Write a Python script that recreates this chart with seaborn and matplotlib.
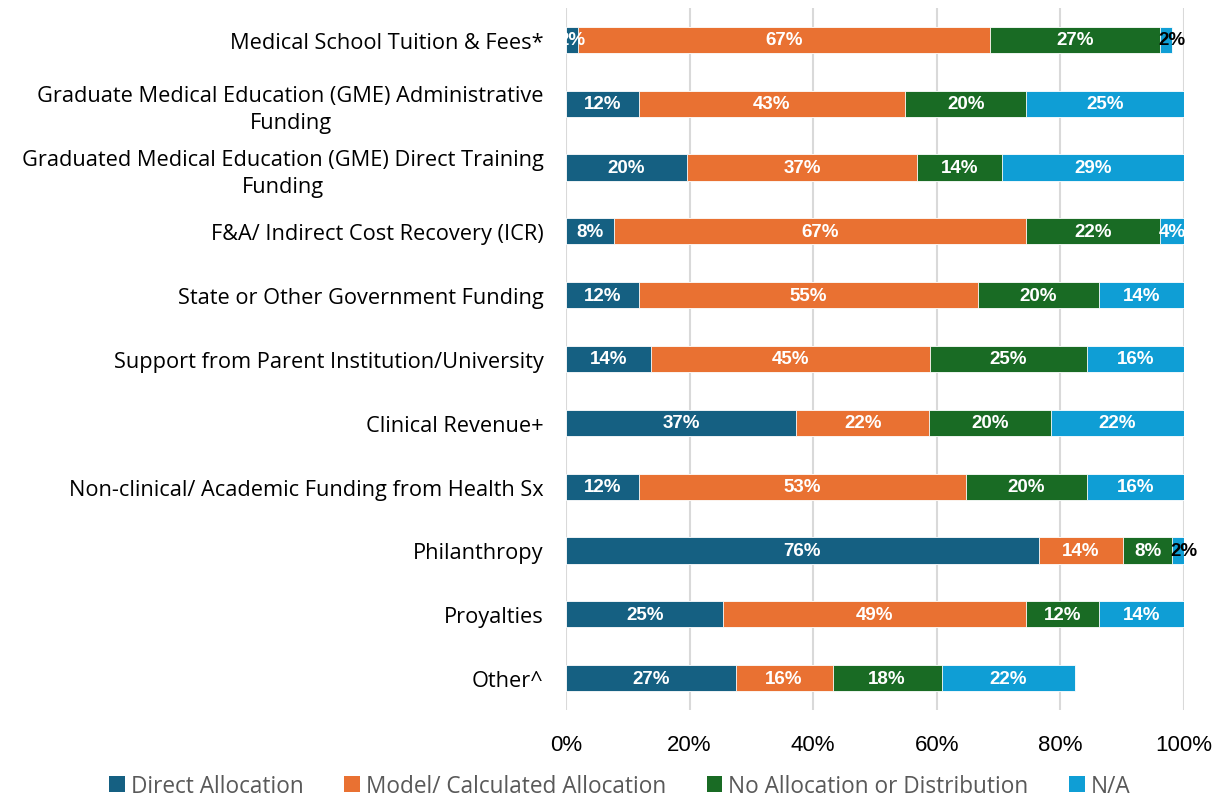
import matplotlib
matplotlib.use("Agg")
import matplotlib.pyplot as plt
import seaborn as sns
import numpy as np
import pandas as pd
from matplotlib.patches import Patch
from matplotlib.ticker import PercentFormatter

categories = [
    "Medical School Tuition & Fees*",
    "Graduate Medical Education (GME) Administrative\nFunding",
    "Graduated Medical Education (GME) Direct Training\nFunding",
    "F&A/ Indirect Cost Recovery (ICR)",
    "State or Other Government Funding",
    "Support from Parent Institution/University",
    "Clinical Revenue+",
    "Non-clinical/ Academic Funding from Health Sx",
    "Philanthropy",
    "Proyalties",
    "Other^",
]
series_names = ["Direct Allocation", "Model/ Calculated Allocation",
                "No Allocation or Distribution", "N/A"]
direct = [1.96, 11.76, 19.61, 7.84, 11.76, 13.73, 37.25, 11.76, 76.47, 25.49, 27.45]
model = [66.67, 43.14, 37.25, 66.67, 54.90, 45.10, 21.57, 52.94, 13.73, 49.02, 15.69]
noalloc = [27.45, 19.61, 13.73, 21.57, 19.61, 25.49, 19.61, 19.61, 7.84, 11.76, 17.65]
na = [1.96, 25.49, 29.41, 3.92, 13.73, 15.69, 21.57, 15.69, 1.96, 13.73, 21.57]
colors = ["#156082", "#E97132", "#196B24", "#0F9ED5"]

sns.set_theme(style="white")
plt.rcParams["font.family"] = ["Liberation Sans", "DejaVu Sans"]

vals = np.array([direct, model, noalloc, na])
cum = np.cumsum(vals, axis=0)

fig = plt.figure(figsize=(12.15, 8.03), dpi=100)
ax = fig.add_axes([0.4658, 0.1146, 0.5087, 0.8742])

for i in range(3, -1, -1):
    d = pd.DataFrame({"cat": categories, "val": cum[i]})
    sns.barplot(data=d, x="val", y="cat", orient="h", color=colors[i],
                width=0.41, saturation=1, ax=ax, edgecolor="white", linewidth=0.6)

for i in range(4):
    for j in range(len(categories)):
        v = vals[i, j]
        left = cum[i, j] - v
        txt = f"{v:.0f}%"
        if i == 3 and v < 3:
            ax.text(left - 0.2, j, txt, ha="left", va="center", color="black",
                    fontsize=13.5, fontweight="bold")
        else:
            ax.text(left + v / 2, j, txt, ha="center", va="center", color="white",
                    fontsize=13.5, fontweight="bold")

ax.set_xlim(0, 100)
ax.set_ylim(10.5, -0.5)
ax.set_xticks(np.arange(0, 101, 20))
ax.xaxis.set_major_formatter(PercentFormatter(decimals=0))
ax.grid(axis="x", color="#d9d9d9", linewidth=1.5)
ax.set_axisbelow(True)
for s in ax.spines.values():
    s.set_visible(False)
ax.set_xlabel("")
ax.set_ylabel("")
ax.tick_params(axis="both", length=0, colors="#000000")
ax.tick_params(axis="x", pad=17, labelsize=16)
ax.tick_params(axis="y", pad=16)
for t in ax.get_yticklabels():
    t.set_multialignment("center")
    t.set_fontfamily(["Open Sans", "DejaVu Sans"])
    t.set_fontsize(15.7)
    t.set_linespacing(1.38)

handles = [Patch(facecolor=c, edgecolor="none") for c in colors]
leg = fig.legend(handles, series_names, loc="lower center", bbox_to_anchor=(0.51, -0.02),
                 ncol=4, frameon=False, handlelength=0.7, handleheight=0.7,
                 handletextpad=0.25, columnspacing=1.8, labelcolor="#595959",
                 prop={"family": ["Open Sans", "DejaVu Sans"], "size": 16.3})

fig.savefig("out.png", dpi=100)
